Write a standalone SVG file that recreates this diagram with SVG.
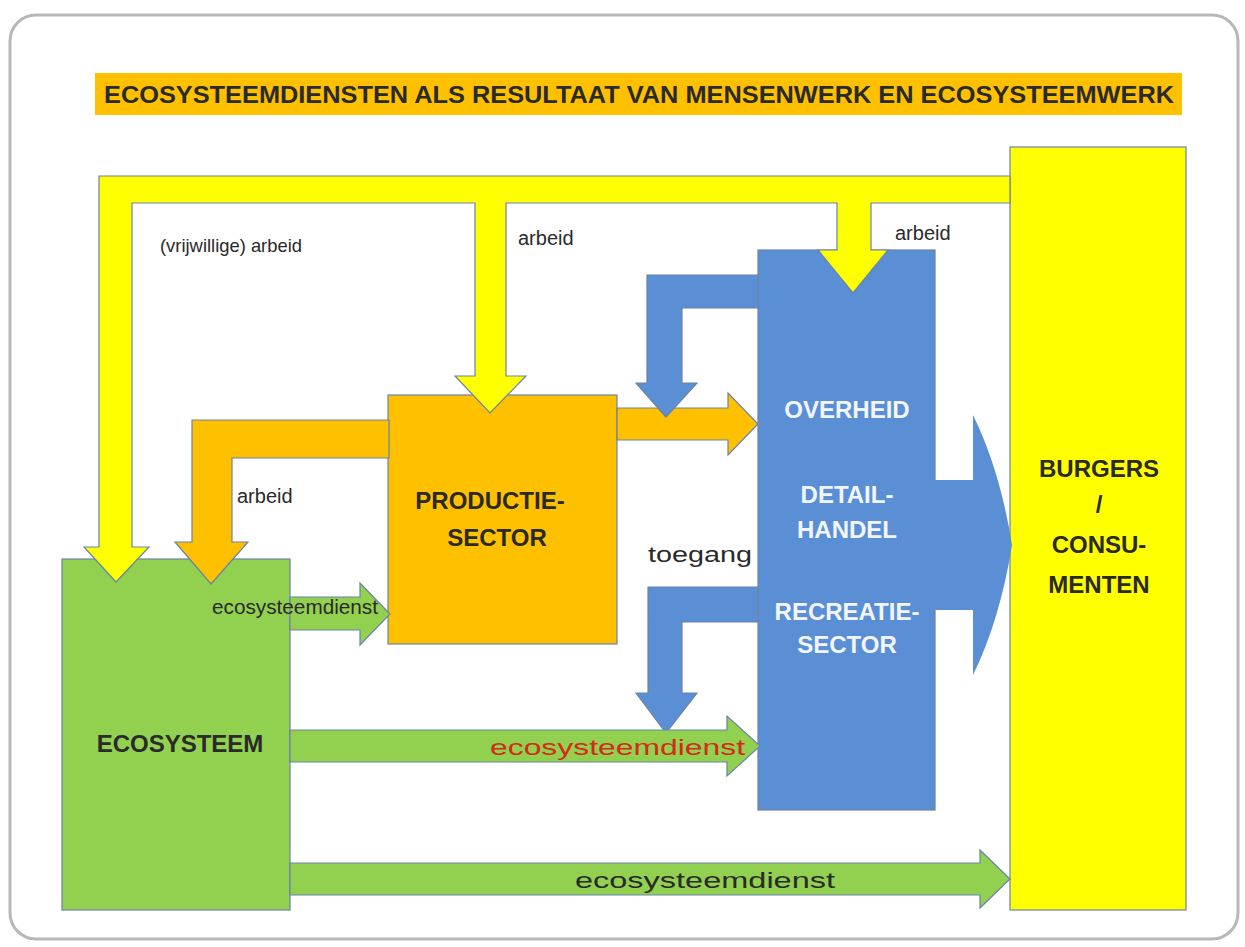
<svg xmlns="http://www.w3.org/2000/svg" width="1245" height="947" viewBox="0 0 1245 947">
<defs>
<style>
.lbl{font-family:"Liberation Sans",Arial,sans-serif;font-size:20px;fill:#2a2a2a}
.cap{font-family:"Liberation Sans",Arial,sans-serif;font-size:24px;font-weight:bold;fill:#2a2a2a;text-anchor:middle}
.capw{font-family:"Liberation Sans",Arial,sans-serif;font-size:24px;font-weight:bold;fill:#f2f6fc;text-anchor:middle}
.edge{stroke:#6a83a8;stroke-width:1.2;stroke-linejoin:miter}
.yel{fill:#ffff00}
.ora{fill:#ffc000}
.grn{fill:#92d050}
.blu{fill:#5a8fd6}
</style>
</defs>
<rect x="0" y="0" width="1245" height="947" fill="#ffffff"/>
<rect x="10" y="15" width="1228" height="924" rx="26" ry="26" fill="#ffffff" stroke="#b8b8b8" stroke-width="3"/>

<g id="title">
<rect x="95" y="73" width="1087" height="42" class="ora"/>
<text x="104" y="103" textLength="1070" lengthAdjust="spacingAndGlyphs" style="font-family:'Liberation Sans',Arial,sans-serif;font-size:23px;font-weight:bold;fill:#2a2a2a">ECOSYSTEEMDIENSTEN ALS RESULTAAT VAN MENSENWERK EN ECOSYSTEEMWERK</text>
</g>

<g id="burgers">
<rect x="1010" y="147" width="176" height="763" class="yel edge"/>
<text class="cap" x="1099" y="477">BURGERS</text>
<text class="cap" x="1099" y="513">/</text>
<text class="cap" x="1099" y="553">CONSU-</text>
<text class="cap" x="1099" y="593">MENTEN</text>
</g>

<g id="productiesector">
<rect x="388" y="395" width="229" height="249" class="ora edge"/>
<text class="cap" x="490" y="509">PRODUCTIE-</text>
<text class="cap" x="497" y="546">SECTOR</text>
</g>

<g id="ecosysteem">
<rect x="62" y="559" width="228" height="351" class="grn edge"/>
<text class="cap" x="180" y="752">ECOSYSTEEM</text>
</g>

<g id="overheid">
<rect x="758" y="250" width="177" height="560" class="blu edge"/>
<text class="capw" x="847" y="418">OVERHEID</text>
<text class="capw" x="847" y="503">DETAIL-</text>
<text class="capw" x="847" y="538">HANDEL</text>
<text class="capw" x="847" y="620">RECREATIE-</text>
<text class="capw" x="847" y="653">SECTOR</text>
</g>

<g id="connectors">
<!-- yellow labour bar with three down arrows -->
<polygon class="yel edge" points="99,176 1010,176 1010,203 871,203 871,250 888,250 853,293 818,250 837,250 837,203 506,203 506,376 526,376 490,413 455,376 475,376 475,203 132,203 132,547 149,547 116,582 84,547 99,547"/>
<!-- orange L arrow to ecosystem -->
<polygon class="ora edge" points="389,420 192,420 192,542 175,542 211,584 248,542 232,542 232,458 389,458"/>
<!-- orange arrow production -> overheid -->
<polygon class="ora edge" points="617,408 728,408 728,393 758,424 728,455 728,440 617,440"/>
<!-- blue toegang arrows -->
<polygon class="blu edge" points="758,275 647,275 647,383 636,383 666,417 697,383 682,383 682,308 758,308"/>
<polygon class="blu edge" points="758,587 648,587 648,693 636,693 666,733 697,693 682,693 682,622 758,622"/>
<!-- big blue arrow to burgers -->
<path class="blu" d="M934,480 L973,480 L973,415 Q1000,470 1012,545 Q1000,620 973,675 L973,610 L934,610 Z"/>
<!-- green ecosystem service arrows -->
<polygon class="grn edge" points="290,597 360,597 360,583 390,614 360,645 360,630 290,630"/>
<polygon class="grn edge" points="290,730 727,730 727,716 760,746 727,776 727,762 290,762"/>
<polygon class="grn edge" points="290,863 980,863 980,850 1010,879 980,908 980,895 290,895"/>
<!-- connector labels -->
<text class="lbl" x="160" y="252" textLength="142" lengthAdjust="spacingAndGlyphs" style="font-size:19px">(vrijwillige) arbeid</text>
<text class="lbl" x="518" y="245">arbeid</text>
<text class="lbl" x="895" y="240">arbeid</text>
<text class="lbl" x="237" y="503">arbeid</text>
<text class="lbl" x="648" y="562" textLength="104" lengthAdjust="spacingAndGlyphs" style="font-size:22px">toegang</text>
<text class="lbl" x="212" y="614" textLength="166" lengthAdjust="spacingAndGlyphs">ecosysteemdienst</text>
<text class="lbl" x="490" y="755" textLength="255" lengthAdjust="spacingAndGlyphs" style="fill:#d42a1a;font-size:22px">ecosysteemdienst</text>
<text class="lbl" x="575" y="888" textLength="260" lengthAdjust="spacingAndGlyphs" style="font-size:22px">ecosysteemdienst</text>
</g>
</svg>
